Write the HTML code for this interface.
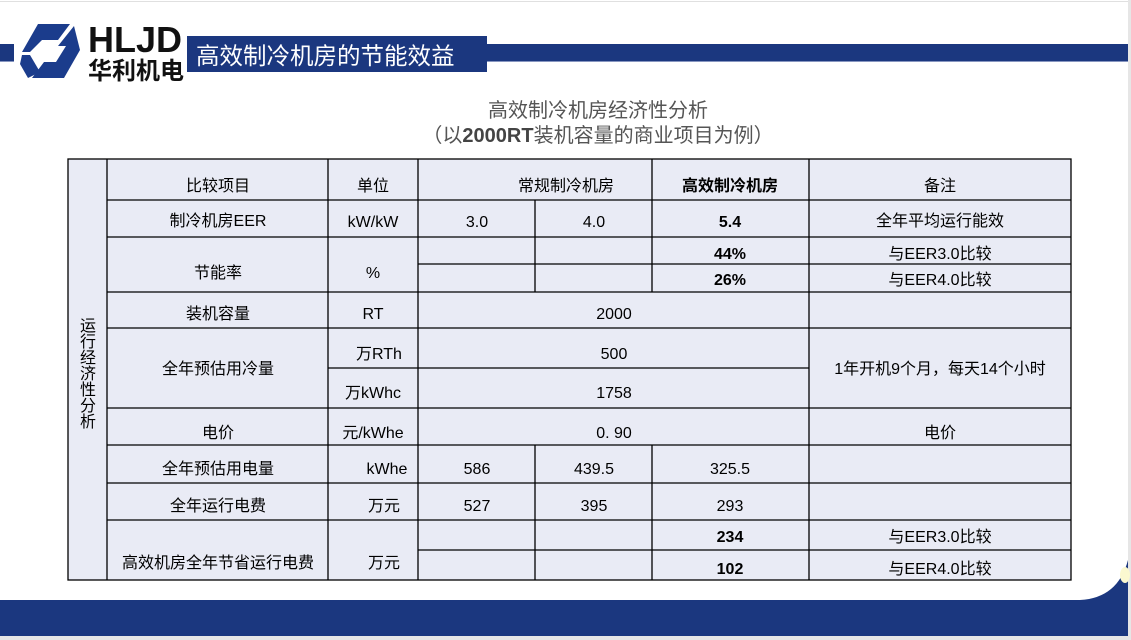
<!DOCTYPE html>
<html><head><meta charset="utf-8"><style>
html,body{margin:0;padding:0;}
body{width:1131px;height:640px;background:#e6e6e6;position:relative;overflow:hidden;font-family:"Liberation Sans","Noto Sans CJK SC",sans-serif;}
</style></head><body>
<svg width="1131" height="640" style="position:absolute;left:0;top:0" font-family="Liberation Sans, Noto Sans CJK SC, sans-serif">
<rect x="0" y="0" width="1128" height="636" fill="#ffffff"/>
<rect x="0" y="1" width="1128" height="1" fill="#e0e0e0"/>
<!-- header bar -->
<rect x="0" y="44" width="1128" height="17" fill="#1b377f"/>
<rect x="0" y="61" width="1128" height="1" fill="#8796c0"/>
<rect x="14" y="30" width="174" height="52" fill="#ffffff"/>
<rect x="187" y="36" width="300" height="36" fill="#1b377f"/>
<text x="196" y="64" font-size="23.5" fill="#ffffff">高效制冷机房的节能效益</text>
<!-- logo -->
<polygon points="38,24 70,24 58,40 42,40 30,52 22,52" fill="#1b3c8c"/>
<polygon points="74,26 80,50 64,78 32,78 44,62 56,62 66,46 58,46" fill="#1b3c8c"/>
<polygon points="22,55 30,55 40,72 28,78 20,64" fill="#1b3c8c"/>
<text x="88" y="52" font-size="36" font-weight="bold" fill="#111">HLJD</text>
<text x="88" y="79" font-size="24" font-weight="bold" fill="#111">华利机电</text>
<!-- titles -->
<text x="598" y="117" font-size="20" fill="#555" text-anchor="middle">高效制冷机房经济性分析</text>
<text x="598" y="142" font-size="20" fill="#555" text-anchor="middle">（以<tspan font-weight="bold" fill="#444">2000RT</tspan>装机容量的商业项目为例）</text>
<!-- footer -->
<path d="M0,600 L1080,600 Q1118,598 1128,560 L1128,636 L0,636 Z" fill="#1b377f"/>
<ellipse cx="1125" cy="575" rx="5" ry="8" fill="#fbf8d0"/>
<!-- table -->
<rect x="68" y="159" width="1003" height="421" fill="#e9ebf5" stroke="#000" stroke-width="1.3"/>
<g stroke="#000" stroke-width="1.3">
<line x1="107" y1="159" x2="107" y2="580"/>
<line x1="328" y1="159" x2="328" y2="580"/>
<line x1="418" y1="159" x2="418" y2="580"/>
<line x1="809" y1="159" x2="809" y2="580"/>
<line x1="652" y1="159" x2="652" y2="292"/>
<line x1="652" y1="445" x2="652" y2="580"/>
<line x1="535" y1="200" x2="535" y2="292"/>
<line x1="535" y1="445" x2="535" y2="580"/>
<line x1="107" y1="200" x2="1071" y2="200"/>
<line x1="107" y1="237" x2="1071" y2="237"/>
<line x1="418" y1="264" x2="1071" y2="264"/>
<line x1="107" y1="292" x2="1071" y2="292"/>
<line x1="107" y1="328" x2="1071" y2="328"/>
<line x1="328" y1="368" x2="809" y2="368"/>
<line x1="107" y1="408" x2="1071" y2="408"/>
<line x1="107" y1="445" x2="1071" y2="445"/>
<line x1="107" y1="483" x2="1071" y2="483"/>
<line x1="107" y1="520" x2="1071" y2="520"/>
<line x1="418" y1="550" x2="1071" y2="550"/>
</g>
<g font-size="16" fill="#000" text-anchor="middle">
<text x="88" y="331">运</text><text x="88" y="347">行</text><text x="88" y="363">经</text><text x="88" y="379">济</text><text x="88" y="395">性</text><text x="88" y="411">分</text><text x="88" y="427">析</text>
<text x="218" y="191">比较项目</text><text x="373" y="191">单位</text><text x="566" y="191">常规制冷机房</text><text x="730" y="191" font-weight="bold">高效制冷机房</text><text x="940" y="191">备注</text>
<text x="218" y="226">制冷机房EER</text><text x="373" y="227">kW/kW</text><text x="477" y="227">3.0</text><text x="594" y="227">4.0</text><text x="730" y="227" font-weight="bold">5.4</text><text x="940" y="226">全年平均运行能效</text>
<text x="218" y="278">节能率</text><text x="373" y="278">%</text>
<text x="730" y="259" font-weight="bold">44%</text><text x="940" y="259">与EER3.0比较</text>
<text x="730" y="285" font-weight="bold">26%</text><text x="940" y="285">与EER4.0比较</text>
<text x="218" y="319">装机容量</text><text x="373" y="319">RT</text><text x="614" y="319">2000</text>
<text x="218" y="374">全年预估用冷量</text><text x="379" y="359">万RTh</text><text x="373" y="398">万kWhc</text><text x="614" y="359">500</text><text x="614" y="398">1758</text><text x="940" y="374">1年开机9个月，每天14个小时</text>
<text x="218" y="438">电价</text><text x="373" y="438">元/kWhe</text><text x="614" y="438">0. 90</text><text x="940" y="438">电价</text>
<text x="218" y="474">全年预估用电量</text><text x="387" y="474">kWhe</text><text x="477" y="474">586</text><text x="594" y="474">439.5</text><text x="730" y="474">325.5</text>
<text x="218" y="511">全年运行电费</text><text x="384" y="511">万元</text><text x="477" y="511">527</text><text x="594" y="511">395</text><text x="730" y="511">293</text>
<text x="218" y="568">高效机房全年节省运行电费</text><text x="384" y="568">万元</text>
<text x="730" y="542" font-weight="bold">234</text><text x="940" y="542">与EER3.0比较</text>
<text x="730" y="574" font-weight="bold">102</text><text x="940" y="574">与EER4.0比较</text>
</g>
</svg>
</body></html>
